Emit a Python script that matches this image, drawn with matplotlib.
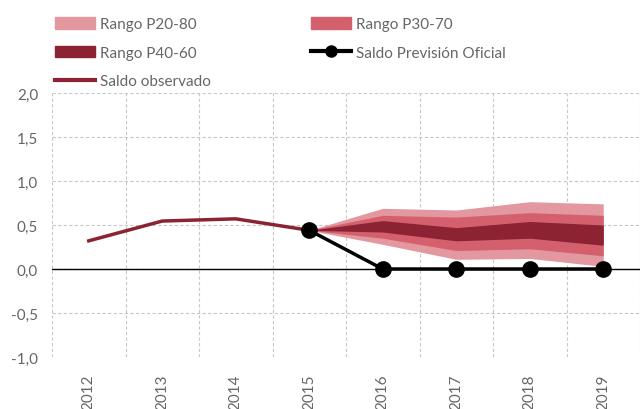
import numpy as np
import matplotlib
matplotlib.use("Agg")
import matplotlib.pyplot as plt
from matplotlib.patches import Patch
from matplotlib.lines import Line2D

plt.rcParams["font.family"] = ["Lato", "DejaVu Sans"]

years = ["2012", "2013", "2014", "2015", "2016", "2017", "2018", "2019"]
observed = [0.32, 0.545, 0.57, 0.44]
official = [0.44, 0.0, 0.0, 0.0, 0.0]
# fan chart bands, 2015..2019
p20 = [0.44, 0.28, 0.11, 0.12, 0.03]
p30 = [0.44, 0.35, 0.21, 0.23, 0.15]
p40 = [0.44, 0.42, 0.32, 0.35, 0.27]
p60 = [0.44, 0.55, 0.47, 0.54, 0.50]
p70 = [0.44, 0.61, 0.59, 0.64, 0.61]
p80 = [0.44, 0.69, 0.67, 0.765, 0.74]

C20 = "#e3979f"
C30 = "#d4606e"
C40 = "#8b2332"
TXT = "#666666"

fig = plt.figure(figsize=(6.42, 4.10), dpi=100)
ax = fig.add_axes([52 / 642, 52 / 410, 588 / 642, 264 / 410])

x = np.arange(len(years))
xf = x[3:]

ax.fill_between(xf, p20, p80, color=C20, lw=0, zorder=2)
ax.fill_between(xf, p30, p70, color=C30, lw=0, zorder=3)
ax.fill_between(xf, p40, p60, color=C40, lw=0, zorder=4)
ax.plot(x[:4], observed, color=C40, lw=2.5, zorder=5)
ax.plot(xf, official, color="black", lw=2.5, marker="o", ms=11, zorder=6)
ax.axhline(0, color="black", lw=1, zorder=1.8)

ax.set_xlim(-0.5, 7.5)
ax.set_ylim(-1.0, 2.0)
ax.set_yticks(np.arange(-1.0, 2.01, 0.5))
ax.set_yticklabels([f"{v:.1f}".replace(".", ",") for v in np.arange(-1.0, 2.01, 0.5)])
ax.set_xticks(x)
ax.set_xticklabels(years, rotation=90)
ax.set_xticks(np.arange(-0.5, 7.6, 1), minor=True)
ax.tick_params(axis="both", which="both", length=0, colors=TXT, labelsize=11)
ax.tick_params(axis="x", pad=12)
ax.tick_params(axis="y", pad=10)
ax.grid(True, axis="y", which="major", color="#c8c8c8", ls=(0, (3, 2)), lw=0.8)
ax.grid(True, axis="x", which="minor", color="#c8c8c8", ls=(0, (3, 2)), lw=0.8)
for s in ax.spines.values():
    s.set_visible(False)

handles = [
    Patch(color=C20, label="Rango P20-80"),
    Patch(color=C40, label="Rango P40-60"),
    Line2D([], [], color=C40, lw=3, label="Saldo observado"),
    Patch(color=C30, label="Rango P30-70"),
    Line2D([], [], color="black", lw=3, marker="o", ms=8, label="Saldo Previsión Oficial"),
]
leg = fig.legend(handles=handles, ncol=2, loc="upper left", bbox_to_anchor=(0.065, 0.99),
                 frameon=False, fontsize=11, handlelength=2.6, handleheight=0.8,
                 handletextpad=0.3, columnspacing=6.6, labelspacing=0.95)
for t in leg.get_texts():
    t.set_color(TXT)

fig.savefig("out.png", dpi=100)
